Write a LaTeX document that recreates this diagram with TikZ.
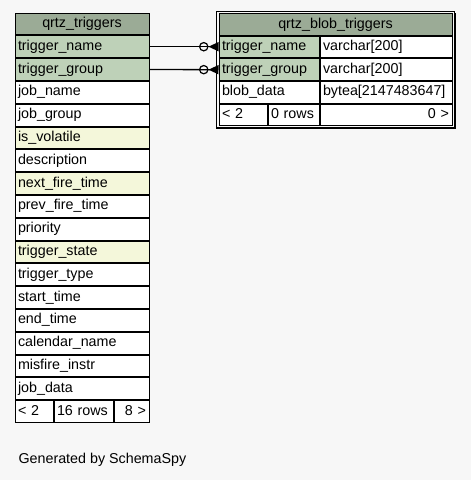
\documentclass[tikz,border=0pt]{standalone}
\usepackage{fontspec}
\setmainfont{Liberation Sans}
\usetikzlibrary{arrows.meta,positioning,fit,shadows,backgrounds}

\definecolor{pagebg}{HTML}{F7F7F7}
\definecolor{headbg}{HTML}{9BAB96}
\definecolor{keybg}{HTML}{BED1B8}
\definecolor{idxbg}{HTML}{F4F7DA}

\begin{document}
\begin{tikzpicture}[
  x=1pt, y=-1pt,
  node distance=0pt,
  cell/.style={draw, line width=1pt, fill=white, inner xsep=3pt, inner ysep=0pt,
               text height=10.2pt, text depth=3pt, align=left,
               font=\fontsize{14.3}{16}\selectfont},
  lcell/.style={cell, minimum height=21.8pt, text width=128pt},
  rcell/.style={cell, minimum height=21.6pt},
  head/.style={fill=headbg, align=center},
  key/.style={fill=keybg},
  idx/.style={fill=idxbg},
  link/.style={line width=1.3pt,
               -{Circle[open, length=9.5pt, width=9.5pt, line width=1.2pt]
                 Triangle[reversed, length=10pt, width=9pt]}}
]
\begin{scope}[on background layer]
\path[use as bounding box, fill=pagebg] (0,0) rectangle (471,480);
\end{scope}

% qrtz_triggers
\node[lcell, head, anchor=north west] (trig) at (14.5,12.5) {qrtz\_triggers};
\node[lcell, key, below=of trig] (tname) {trigger\_name};
\node[lcell, key, below=of tname] (tgroup) {trigger\_group};
\node[lcell, below=of tgroup] (jname) {job\_name};
\node[lcell, below=of jname] (jgroup) {job\_group};
\node[lcell, idx, below=of jgroup] (volatile) {is\_volatile};
\node[lcell, below=of volatile] (descr) {description};
\node[lcell, idx, below=of descr] (nextfire) {next\_fire\_time};
\node[lcell, below=of nextfire] (prevfire) {prev\_fire\_time};
\node[lcell, below=of prevfire] (prio) {priority};
\node[lcell, idx, below=of prio] (tstate) {trigger\_state};
\node[lcell, below=of tstate] (ttype) {trigger\_type};
\node[lcell, below=of ttype] (tstart) {start\_time};
\node[lcell, below=of tstart] (tend) {end\_time};
\node[lcell, below=of tend] (calname) {calendar\_name};
\node[lcell, below=of calname] (misfire) {misfire\_instr};
\node[lcell, below=of misfire] (jdata) {job\_data};
\node[lcell, text width=32pt, below=of jdata.south west, anchor=north west] (tprev) {< 2};
\node[lcell, text width=53pt, right=of tprev] (trows) {16 rows};
\node[lcell, text width=29pt, align=right, right=of trows] (tnext) {8 >};

% qrtz_blob_triggers
\node[rcell, head, text width=227pt, anchor=north west] (blob) at (218.5,13.2) {qrtz\_blob\_triggers};
\node[rcell, key, text width=94pt, below=of blob.south west, anchor=north west] (bname) {trigger\_name};
\node[rcell, text width=126pt, right=of bname] (bnametype) {varchar[200]};
\node[rcell, key, text width=94pt, below=of bname] (bgroup) {trigger\_group};
\node[rcell, text width=126pt, right=of bgroup] (bgrouptype) {varchar[200]};
\node[rcell, text width=94pt, below=of bgroup] (bdata) {blob\_data};
\node[rcell, text width=126pt, right=of bdata] (bdatatype) {bytea[2147483647]};
\node[rcell, text width=42pt, below=of bdata.south west, anchor=north west] (bprev) {< 2};
\node[rcell, text width=45pt, right=of bprev] (brows) {0 rows};
\node[rcell, text width=126pt, align=right, right=of brows] (bnext) {0 >};

\begin{scope}[on background layer]
\node[draw, line width=1.3pt, fill=pagebg, inner sep=1.8pt, fit=(blob) (bprev) (bnext),
      drop shadow={shadow xshift=1.3pt, shadow yshift=-1.3pt, fill=black, opacity=1}] (blobframe) {};
\end{scope}

\draw[link] (tname.east) -- (tname.east -| bname.west);
\draw[link] (tgroup.east) -- (bgroup.west);

\node[anchor=base west, font=\fontsize{14.3}{16}\selectfont] (gen) at (15,463) {Generated by SchemaSpy};
\end{tikzpicture}
\end{document}
